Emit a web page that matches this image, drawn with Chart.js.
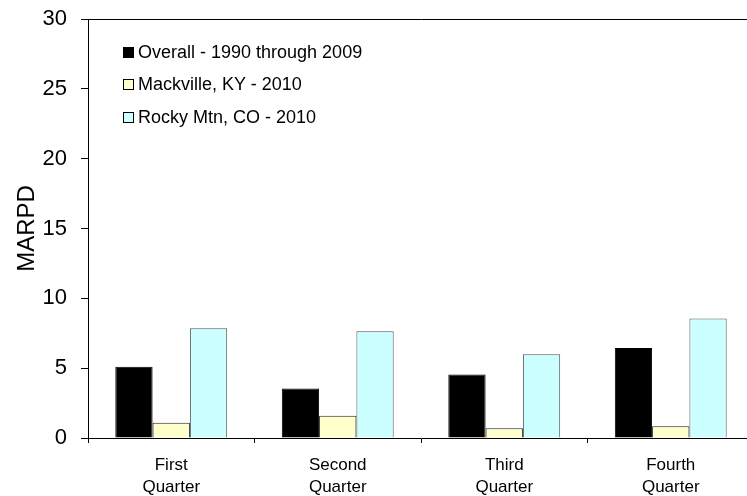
<!DOCTYPE html>
<html>
<head>
<meta charset="utf-8">
<script src="https://cdn.jsdelivr.net/npm/chart.js@4"></script>
<style>
  html, body { margin: 0; padding: 0; background: #fff; overflow: hidden; }
  #wrap { position: relative; width: 760px; height: 496px; }
  #legend { position: absolute; left: 123px; top: 36px; font-family: "Liberation Sans", Arial, sans-serif; font-size: 18px; color: #000; }
  .item { height: 32.5px; display: flex; align-items: center; }
  .box { width: 9px; height: 9px; border: 1px solid #000; margin-right: 4px; }
</style>
</head>
<body>
<div id="wrap">
  <canvas id="chart" width="760" height="496"></canvas>
  <div id="legend"></div>
</div>
<script>
// Datos
const quarters = [['First', 'Quarter'], ['Second', 'Quarter'], ['Third', 'Quarter'], ['Fourth', 'Quarter']];
const overall = [5.1, 3.55, 4.55, 6.45];
const mackville = [1.1, 1.6, 0.7, 0.85];
const rockyMtn = [7.85, 7.65, 6.0, 8.55];
const yTicks = [0, 5, 10, 15, 20, 25, 30];

const seriesStyle = [
    { label: 'Overall - 1990 through 2009', data: overall, fill: '#000000', border: '#000000' },
    { label: 'Mackville, KY - 2010', data: mackville, fill: '#FFFFCC', border: '#222222' },
    { label: 'Rocky Mtn, CO - 2010', data: rockyMtn, fill: '#CCFFFF', border: '#555555' }
];

const font = '"Liberation Sans", Arial, sans-serif';

const datasets = seriesStyle.map(s => ({
    label: s.label,
    data: s.data,
    backgroundColor: s.fill,
    borderColor: s.border,
    borderWidth: 1,
    borderSkipped: 'bottom',
    barPercentage: 1,
    categoryPercentage: 0.672
}));

new Chart(document.getElementById('chart'), {
    type: 'bar',
    data: { labels: quarters, datasets: datasets },
    options: {
        responsive: false,
        animation: false,
        layout: { padding: { left: 0, top: 19, right: 6, bottom: 0 } },
        plugins: { legend: { display: false }, tooltip: { enabled: false } },
        scales: {
            x: {
                afterFit: s => { s.height = 58; },
                grid: { offset: true, drawOnChartArea: false, color: '#000', tickColor: '#000', tickLength: 5 },
                border: { color: '#000', width: 1 },
                ticks: { color: '#000', padding: 11, font: { family: font, size: 17, lineHeight: 1.3 }, maxRotation: 0 }
            },
            y: {
                min: 0,
                max: 30,
                afterFit: s => { s.width = 88; s.paddingTop = 0; s.paddingBottom = 0; },
                afterBuildTicks: s => { s.ticks = yTicks.map(v => ({ value: v })); },
                grid: {
                    color: c => (c.tick && c.tick.value === 30) ? '#000' : 'rgba(0,0,0,0)',
                    tickColor: '#000',
                    tickLength: 7
                },
                border: { color: '#000', width: 1 },
                ticks: { color: '#000', padding: 14, font: { family: font, size: 22 } },
                title: { display: true, text: 'MARPD', color: '#000', font: { family: font, size: 24 }, padding: { top: 13, bottom: 0 } }
            }
        }
    }
});

// Leyenda dentro del area de la grafica
const legend = document.getElementById('legend');
seriesStyle.forEach(s => {
    const item = document.createElement('div');
    item.className = 'item';
    const box = document.createElement('span');
    box.className = 'box';
    box.style.background = s.fill;
    const txt = document.createElement('span');
    txt.textContent = s.label;
    item.appendChild(box);
    item.appendChild(txt);
    legend.appendChild(item);
});
</script>
</body>
</html>
